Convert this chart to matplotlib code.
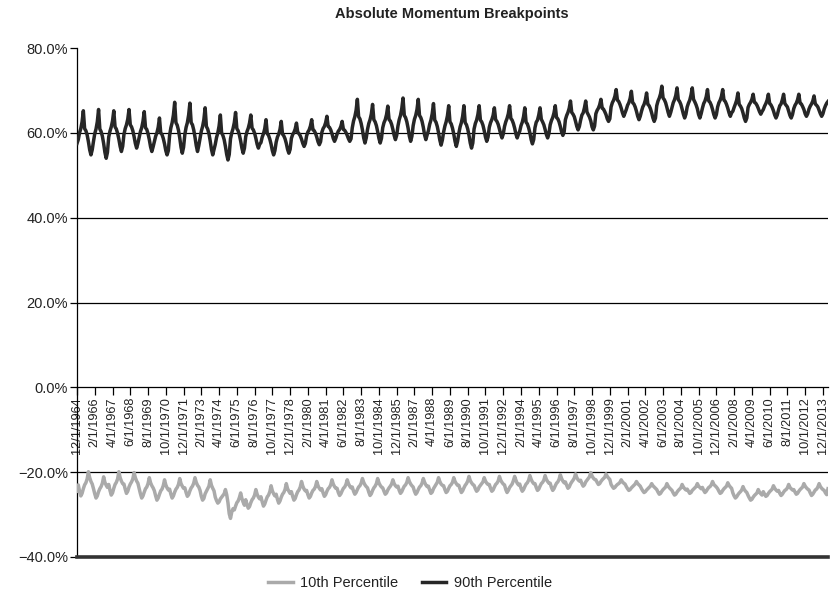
import matplotlib
matplotlib.use("Agg")
import matplotlib.pyplot as plt
import numpy as np
import pandas as pd

plt.rcParams['font.family'] = ['Liberation Sans', 'DejaVu Sans']

# Monthly breakpoints (%), first value is 12/1964, then Jan..Dec per year
p90_1960s = [
    57.5,
    58.4, 60.0, 61.0, 62.6, 65.2, 61.0, 60.5, 59.5, 57.9, 56.0, 54.8, 56.0,
    58.0, 59.8, 60.9, 62.6, 65.5, 60.9, 60.3, 59.2, 57.5, 55.4, 54.0, 55.4,
    59.0, 60.4, 61.4, 62.8, 65.2, 61.4, 60.9, 59.9, 58.5, 56.8, 55.6, 56.8,
    59.6, 61.0, 61.9, 63.2, 65.5, 61.9, 61.4, 60.5, 59.1, 57.5, 56.4, 57.5,
    58.9, 60.3, 61.2, 62.7, 65.0, 61.2, 60.8, 59.8, 58.4, 56.7, 55.6, 56.7,
]
p90_1970s = [
    57.9, 59.2, 60.0, 61.3, 63.5, 60.0, 59.6, 58.7, 57.4, 55.8, 54.8, 55.8,
    59.4, 61.2, 62.4, 64.2, 67.2, 62.4, 61.8, 60.6, 58.8, 56.6, 55.2, 56.6,
    59.6, 61.3, 62.4, 64.2, 67.0, 62.4, 61.9, 60.7, 59.0, 57.0, 55.6, 57.0,
    58.7, 60.4, 61.5, 63.1, 65.9, 61.5, 60.9, 59.8, 58.1, 56.1, 54.8, 56.1,
    57.3, 58.9, 60.0, 61.6, 64.2, 60.0, 59.4, 58.4, 56.8, 54.9, 53.6, 54.9,
    58.6, 60.0, 61.0, 62.4, 64.8, 61.0, 60.5, 59.5, 58.1, 56.4, 55.2, 56.4,
    59.1, 60.3, 61.1, 62.3, 64.2, 61.1, 60.7, 59.9, 58.7, 57.3, 56.4, 57.3,
    57.7, 59.0, 59.8, 61.0, 63.1, 59.8, 59.4, 58.5, 57.3, 55.8, 54.8, 55.8,
    57.8, 59.0, 59.7, 60.8, 62.7, 59.7, 59.3, 58.6, 57.5, 56.1, 55.2, 56.1,
    58.7, 59.6, 60.1, 60.9, 62.3, 60.1, 59.8, 59.3, 58.5, 57.5, 56.8, 57.5,
]
p90_1980s = [
    59.3, 60.2, 60.7, 61.6, 63.1, 60.7, 60.5, 59.9, 59.0, 57.9, 57.2, 57.9,
    60.1, 61.0, 61.5, 62.4, 63.9, 61.5, 61.3, 60.7, 59.8, 58.7, 58.0, 58.7,
    59.7, 60.4, 60.8, 61.5, 62.7, 60.8, 60.6, 60.1, 59.4, 58.6, 58.0, 58.6,
    61.2, 62.8, 63.8, 65.3, 67.9, 63.8, 63.3, 62.2, 60.7, 58.8, 57.6, 58.8,
    60.8, 62.2, 63.1, 64.4, 66.7, 63.1, 62.6, 61.7, 60.3, 58.7, 57.6, 58.7,
    61.2, 62.4, 63.1, 64.3, 66.3, 63.1, 62.8, 62.0, 60.8, 59.4, 58.4, 59.4,
    61.6, 63.1, 64.1, 65.7, 68.2, 64.1, 63.6, 62.6, 61.1, 59.2, 58.0, 59.2,
    61.7, 63.2, 64.1, 65.5, 67.9, 64.1, 63.6, 62.7, 61.3, 59.5, 58.4, 59.5,
    60.5, 62.0, 63.0, 64.5, 66.9, 63.0, 62.5, 61.5, 60.0, 58.3, 57.1, 58.3,
    60.2, 61.6, 62.6, 64.0, 66.4, 62.6, 62.1, 61.1, 59.7, 58.0, 56.8, 58.0,
]
p90_1990s = [
    59.9, 61.4, 62.4, 63.9, 66.4, 62.4, 61.9, 60.9, 59.4, 57.6, 56.4, 57.6,
    60.9, 62.2, 63.0, 64.3, 66.4, 63.0, 62.6, 61.8, 60.5, 59.0, 58.0, 59.0,
    61.3, 62.4, 63.1, 64.1, 65.9, 63.1, 62.7, 62.0, 60.9, 59.7, 58.8, 59.7,
    61.5, 62.6, 63.4, 64.5, 66.4, 63.4, 63.0, 62.2, 61.1, 59.7, 58.8, 59.7,
    60.4, 61.7, 62.5, 63.8, 65.9, 62.5, 62.1, 61.2, 60.0, 58.4, 57.4, 58.4,
    61.2, 62.5, 63.0, 64.2, 65.9, 63.2, 62.6, 61.9, 60.8, 59.6, 58.8, 59.8,
    61.9, 62.9, 63.6, 64.7, 66.4, 63.6, 63.3, 62.6, 61.5, 60.2, 59.4, 60.2,
    63.1, 64.1, 64.8, 65.8, 67.5, 64.8, 64.4, 63.8, 62.7, 61.5, 60.7, 61.5,
    63.0, 64.2, 64.7, 65.9, 67.5, 64.9, 64.3, 63.7, 62.8, 61.4, 60.7, 61.6,
    64.5, 65.3, 65.8, 66.6, 67.9, 65.8, 65.6, 65.0, 64.3, 63.3, 62.7, 63.3,
]
p90_2000s = [
    66.1, 67.1, 67.7, 68.6, 70.2, 67.7, 67.4, 66.7, 65.8, 64.7, 63.9, 64.7,
    65.5, 66.5, 67.1, 68.1, 69.8, 67.1, 66.8, 66.1, 65.1, 63.9, 63.1, 63.9,
    65.1, 66.1, 66.7, 67.7, 69.4, 66.7, 66.4, 65.7, 64.7, 63.5, 62.7, 63.5,
    66.4, 67.5, 68.2, 69.2, 71.0, 68.2, 67.8, 67.1, 66.0, 64.8, 63.9, 64.8,
    66.0, 67.1, 67.8, 68.8, 70.6, 67.8, 67.4, 66.7, 65.6, 64.4, 63.5, 64.4,
    66.1, 67.0, 67.7, 68.9, 70.6, 67.9, 67.3, 66.6, 65.7, 64.3, 63.5, 64.5,
    65.8, 66.9, 67.5, 68.5, 70.2, 67.5, 67.2, 66.5, 65.5, 64.3, 63.5, 64.3,
    66.1, 67.1, 67.7, 68.6, 70.2, 67.7, 67.4, 66.7, 65.8, 64.7, 63.9, 64.7,
    65.1, 66.0, 66.8, 67.7, 69.4, 66.7, 66.3, 65.7, 64.7, 63.5, 62.7, 63.5,
    66.0, 66.7, 67.2, 67.9, 69.1, 67.2, 67.0, 66.5, 65.8, 65.0, 64.4, 65.0,
]
p90_2010s = [
    65.5, 66.3, 66.9, 67.7, 69.1, 66.9, 66.6, 66.0, 65.2, 64.2, 63.5, 64.2,
    65.4, 66.4, 66.8, 67.8, 69.1, 66.9, 66.5, 66.1, 65.1, 64.1, 63.5, 64.3,
    65.7, 66.5, 67.0, 67.8, 69.1, 67.0, 66.8, 66.2, 65.5, 64.5, 63.9, 64.5,
    65.6, 66.3, 66.8, 67.5, 68.7, 66.8, 66.5, 66.1, 65.3, 64.5, 63.9, 64.5,
    65.6, 66.4, 67.0, 67.4,
]

p10_1960s = [
    -24.5,
    -23.0, -24.5, -25.6, -25.0, -23.9, -23.0, -22.5, -21.6, -19.9, -21.3, -22.2, -22.8,
    -23.9, -25.1, -26.1, -25.6, -24.6, -23.9, -23.4, -22.6, -21.1, -22.4, -23.1, -23.6,
    -22.9, -24.3, -25.4, -24.9, -23.8, -22.9, -22.4, -21.6, -19.9, -21.3, -22.1, -22.7,
    -22.8, -24.0, -25.0, -24.5, -23.5, -22.8, -22.3, -21.6, -20.1, -21.3, -22.1, -22.6,
    -23.9, -25.1, -26.1, -25.6, -24.7, -23.9, -23.5, -22.7, -21.3, -22.5, -23.2, -23.7,
]
p10_1970s = [
    -24.4, -25.6, -26.6, -26.1, -25.2, -24.4, -24.0, -23.2, -21.8, -23.0, -23.7, -24.2,
    -24.0, -25.2, -26.1, -25.6, -24.7, -24.0, -23.6, -22.9, -21.5, -22.7, -23.3, -23.8,
    -23.7, -24.8, -25.7, -25.3, -24.4, -23.7, -23.3, -22.6, -21.3, -22.4, -23.1, -23.5,
    -24.3, -25.7, -26.6, -26.2, -25.1, -24.5, -23.9, -23.3, -21.8, -23.1, -23.8, -24.4,
    -25.9, -26.7, -27.3, -27.0, -26.3, -25.9, -25.5, -25.1, -24.1, -25.3, -27.2, -29.8,
    -30.9, -29.4, -28.6, -28.9, -28.0, -27.2, -26.8, -26.0, -24.9, -26.2, -27.1, -27.8,
    -26.5, -27.6, -28.5, -28.1, -27.2, -26.5, -26.1, -25.4, -24.1, -25.2, -25.9, -26.3,
    -25.8, -27.0, -28.0, -27.5, -26.6, -25.8, -25.4, -24.6, -23.2, -24.4, -25.1, -25.6,
    -25.2, -26.4, -27.3, -26.8, -25.9, -25.2, -24.8, -24.1, -22.7, -23.9, -24.5, -25.0,
    -24.6, -25.7, -26.6, -26.2, -25.3, -24.6, -24.2, -23.5, -22.2, -23.3, -24.0, -24.4,
]
p10_1980s = [
    -24.3, -25.3, -26.1, -25.7, -24.9, -24.3, -24.0, -23.4, -22.2, -23.2, -23.8, -24.2,
    -23.9, -24.9, -25.7, -25.3, -24.5, -23.9, -23.6, -23.0, -21.8, -22.8, -23.4, -23.8,
    -23.8, -24.8, -25.5, -25.1, -24.4, -23.8, -23.5, -22.9, -21.8, -22.7, -23.3, -23.7,
    -23.5, -24.5, -25.2, -24.8, -24.1, -23.5, -23.2, -22.6, -21.5, -22.4, -23.0, -23.4,
    -23.7, -24.7, -25.5, -25.1, -24.3, -23.7, -23.3, -22.7, -21.5, -22.5, -23.1, -23.5,
    -23.7, -24.5, -25.2, -24.9, -24.2, -23.7, -23.3, -22.8, -21.8, -22.7, -23.2, -23.5,
    -23.3, -24.3, -25.0, -24.6, -23.9, -23.3, -23.0, -22.4, -21.3, -22.2, -22.8, -23.2,
    -23.5, -24.5, -25.2, -24.8, -24.1, -23.5, -23.2, -22.6, -21.5, -22.4, -23.0, -23.4,
    -23.3, -24.2, -25.0, -24.7, -23.9, -23.4, -22.9, -22.4, -21.3, -22.2, -22.8, -23.1,
    -23.2, -24.1, -24.8, -24.5, -23.8, -23.2, -22.9, -22.4, -21.3, -22.2, -22.7, -23.1,
]
p10_1990s = [
    -23.1, -24.0, -24.8, -24.4, -23.7, -23.1, -22.7, -22.1, -21.0, -22.0, -22.5, -22.9,
    -23.1, -23.9, -24.5, -24.2, -23.5, -23.1, -22.7, -22.3, -21.3, -22.1, -22.6, -22.9,
    -22.9, -23.8, -24.5, -24.2, -23.5, -22.9, -22.6, -22.1, -21.0, -21.9, -22.4, -22.8,
    -23.0, -24.1, -24.8, -24.3, -23.6, -23.2, -22.8, -22.0, -21.0, -21.9, -22.6, -23.0,
    -22.8, -23.8, -24.5, -24.1, -23.4, -22.8, -22.5, -21.9, -20.8, -21.7, -22.3, -22.7,
    -22.7, -23.6, -24.3, -24.0, -23.3, -22.7, -22.4, -21.9, -20.8, -21.7, -22.2, -22.6,
    -22.6, -23.6, -24.3, -23.9, -23.2, -22.6, -22.3, -21.7, -20.6, -21.5, -22.1, -22.5,
    -22.3, -23.1, -23.8, -23.5, -22.8, -22.3, -21.9, -21.4, -20.4, -21.3, -21.8, -22.1,
    -21.9, -22.7, -23.3, -23.0, -22.3, -21.9, -21.5, -21.1, -20.1, -20.9, -21.4, -21.7,
    -21.8, -22.4, -22.9, -22.7, -22.2, -21.8, -21.5, -21.2, -20.4, -21.0, -21.4, -21.7,
]
p10_2000s = [
    -22.9, -23.4, -23.8, -23.6, -23.2, -22.9, -22.7, -22.4, -21.8, -22.3, -22.6, -22.8,
    -23.4, -23.9, -24.3, -24.1, -23.7, -23.4, -23.1, -22.8, -22.2, -22.7, -23.0, -23.3,
    -23.9, -24.4, -24.8, -24.6, -24.2, -23.9, -23.6, -23.3, -22.7, -23.2, -23.5, -23.8,
    -24.1, -24.7, -25.2, -25.0, -24.5, -24.1, -23.8, -23.5, -22.7, -23.3, -23.7, -24.0,
    -24.3, -24.9, -25.4, -25.2, -24.7, -24.3, -24.0, -23.7, -22.9, -23.5, -23.9, -24.2,
    -24.0, -24.5, -25.0, -24.8, -24.3, -24.0, -23.7, -23.4, -22.7, -23.3, -23.6, -23.9,
    -23.6, -24.3, -24.8, -24.5, -24.0, -23.6, -23.4, -23.0, -22.2, -22.9, -23.2, -23.5,
    -23.9, -24.5, -25.0, -24.8, -24.3, -23.9, -23.6, -23.3, -22.5, -23.1, -23.5, -23.8,
    -24.9, -25.6, -26.1, -25.8, -25.3, -24.9, -24.6, -24.2, -23.4, -24.1, -24.5, -24.8,
    -25.5, -26.1, -26.6, -26.4, -25.9, -25.5, -25.2, -24.9, -24.1, -24.7, -25.1, -25.4,
]
p10_2010s = [
    -24.6, -25.2, -25.7, -25.5, -25.0, -24.6, -24.3, -24.0, -23.2, -23.8, -24.2, -24.5,
    -24.3, -25.0, -25.5, -25.2, -24.7, -24.3, -24.1, -23.7, -22.9, -23.6, -23.9, -24.2,
    -24.1, -24.7, -25.2, -25.0, -24.5, -24.1, -23.8, -23.5, -22.7, -23.3, -23.7, -24.0,
    -24.2, -24.9, -25.5, -25.2, -24.7, -24.2, -24.0, -23.5, -22.7, -23.4, -23.8, -24.1,
    -24.3, -24.9, -25.3, -23.9,
]

tick_labels = [
    "12/1/1964", "2/1/1966", "4/1/1967", "6/1/1968", "8/1/1969", "10/1/1970",
    "12/1/1971", "2/1/1973", "4/1/1974", "6/1/1975", "8/1/1976", "10/1/1977",
    "12/1/1978", "2/1/1980", "4/1/1981", "6/1/1982", "8/1/1983", "10/1/1984",
    "12/1/1985", "2/1/1987", "4/1/1988", "6/1/1989", "8/1/1990", "10/1/1991",
    "12/1/1992", "2/1/1994", "4/1/1995", "6/1/1996", "8/1/1997", "10/1/1998",
    "12/1/1999", "2/1/2001", "4/1/2002", "6/1/2003", "8/1/2004", "10/1/2005",
    "12/1/2006", "2/1/2008", "4/1/2009", "6/1/2010", "8/1/2011", "10/1/2012",
    "12/1/2013",
]
y_ticks = [-40, -20, 0, 20, 40, 60, 80]
series_names = ["10th Percentile", "90th Percentile"]

p90 = np.array(p90_1960s + p90_1970s + p90_1980s + p90_1990s + p90_2000s + p90_2010s)
p10 = np.array(p10_1960s + p10_1970s + p10_1980s + p10_1990s + p10_2000s + p10_2010s)

dates = pd.date_range("1964-12-01", periods=len(p90), freq="MS")
date_labels = [f"{d.month}/{d.day}/{d.year}" for d in dates]
x = np.arange(len(dates))
tick_pos = [date_labels.index(t) for t in tick_labels]

W, H = 830, 603
fig = plt.figure(figsize=(W / 100, H / 100), dpi=100)
ax = fig.add_axes([77 / W, 1 - 557 / H, (828 - 77) / W, (557 - 48) / H])

l10, = ax.plot(x, p10, color="#aaaaaa", lw=2.5, zorder=3, label=series_names[0])
l90, = ax.plot(x, p90, color="#262626", lw=2.5, zorder=3, label=series_names[1])

ax.set_xlim(x[0], x[-1])
ax.set_ylim(-40, 80)

for v in [60, 40, 20, -20]:
    ax.axhline(v, color="black", lw=0.9, zorder=1)
ax.axhline(-40, color="#333333", lw=2.6, zorder=4, clip_on=False)

for s in ["top", "right"]:
    ax.spines[s].set_visible(False)
ax.spines["bottom"].set_position(("data", 0))
ax.spines["bottom"].set_color("black")
ax.spines["bottom"].set_linewidth(0.9)
ax.spines["left"].set_color("black")
ax.spines["left"].set_linewidth(0.9)

ax.set_yticks(y_ticks)
ax.set_yticklabels([f"{v:.1f}%".replace("-", "\u2212") for v in y_ticks])
ax.tick_params(axis="y", length=5, width=0.9, direction="out", labelsize=10.5,
               pad=1.5, colors="black", labelcolor="#222222")

ax.set_xticks(tick_pos)
ax.set_xticklabels(tick_labels, rotation=90, fontsize=9.2, color="#222222")
ax.tick_params(axis="x", length=6, width=0.9, direction="out", pad=1)

fig.text(452 / W, 1 - 14 / H, "Absolute Momentum Breakpoints", ha="center",
         va="center", fontsize=10.5, fontweight="bold", color="#222222")

fig.legend(handles=[l10, l90], loc="center", bbox_to_anchor=(410 / W, 1 - 583 / H),
           ncol=2, frameon=False, fontsize=10.5, handlelength=1.7,
           handletextpad=0.5, columnspacing=1.6, labelcolor="#222222")

fig.savefig("out.png", dpi=100)
